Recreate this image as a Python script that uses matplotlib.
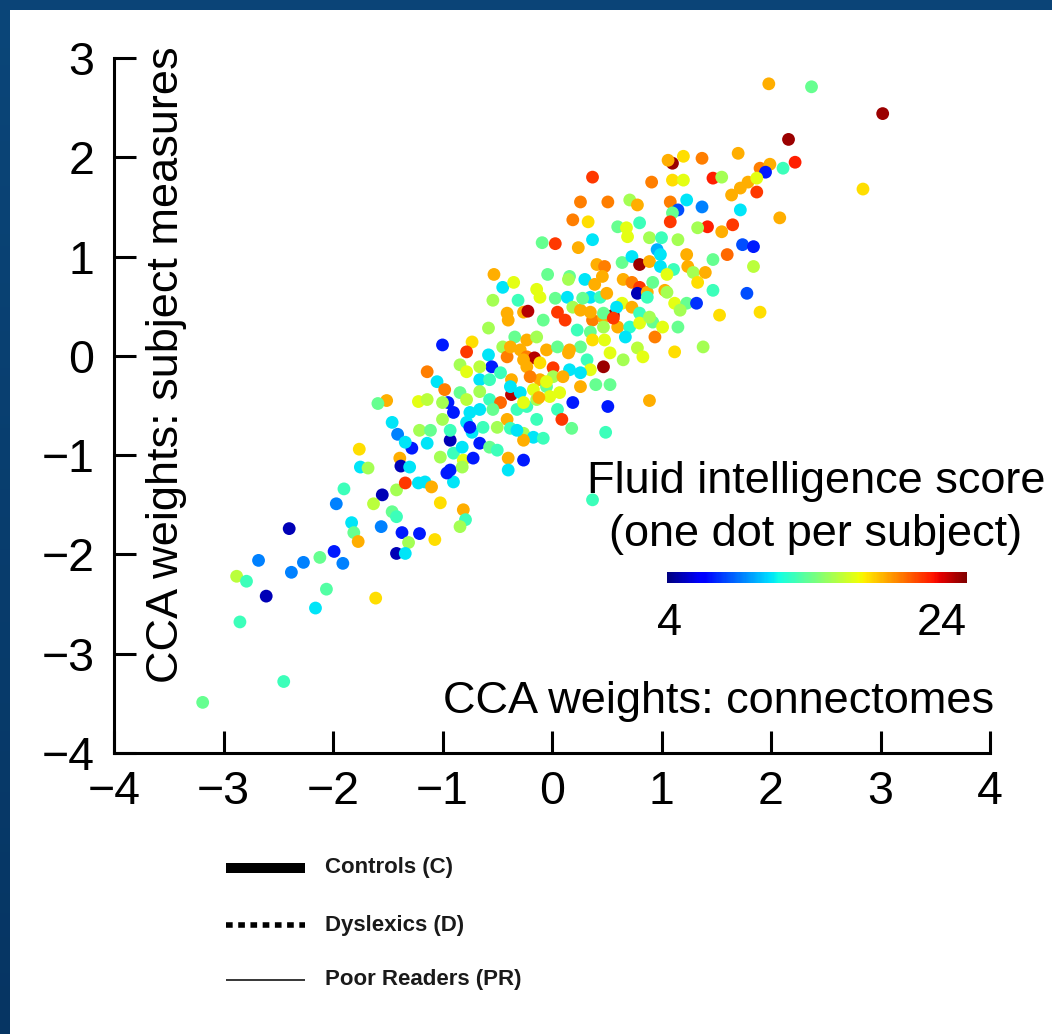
import numpy as np
import matplotlib
matplotlib.use("Agg")
import matplotlib.pyplot as plt
from matplotlib.lines import Line2D

plt.rcParams['font.family'] = ['Liberation Sans', 'DejaVu Sans']

# CCA weights, connectomes (x)
cca_conn = [
    -1.51, -1.59, -1.46, -1.41, -1.76, -1.75, -1.68, -1.42, -1.55, -1.90,
    -1.97, -1.63, -1.46, -1.42, -2.40, -1.83, -1.81, -1.77, -1.56, -1.42,
    -1.99, -1.91, -2.12, -2.27, -2.38, -2.68, -2.88, -2.79, -2.61, -2.06,
    -1.61, -2.16, -2.85, -2.45, -3.19, -1.34, -1.22, -1.16, -1.10, -1.02,
    -0.81, -0.79, -0.84, -1.37, -1.31, -1.21, -1.07, -1.34, -0.90, 0.37,
    -0.09, 0.03, -0.53, -0.45, -0.35, -0.04, -0.14, -0.11, -0.54, -0.31,
    0.03, -0.41, -0.40, -0.26, -0.22, 0.05, -0.08, -0.58, -0.73, -0.78,
    -0.34, -0.23, -0.14, -0.45, -0.41, -0.58, -0.55, -1.00, -0.84, -0.78,
    -0.66, -0.29, -0.23, -0.16, -0.23, -0.11, 0.01, -0.05, 0.05, -1.14,
    -1.05, -0.98, -0.66, -0.57, -0.47, -0.37, -0.11, -0.20, 0.01, -0.37,
    -0.38, -0.29, -0.17, -0.05, 0.26, 0.07, 0.19, -1.22, -1.14, -0.84,
    -0.78, -0.95, -1.00, -0.66, -0.57, -0.47, -0.90, -0.75, -0.66, -0.54,
    -0.41, -0.32, -0.23, -0.14, -0.02, 0.05, 0.09, 0.18, -1.00, -0.78,
    -0.73, -0.63, -0.50, -0.38, -0.26, -0.17, -0.08, -1.28, -1.14, -0.93,
    -0.90, -0.82, -0.66, -0.57, -0.50, -0.26, -1.21, -1.11, -1.02, -0.93,
    -0.81, -0.72, -0.40, -0.26, -0.40, -0.96, -1.39, -1.38, -1.34, -1.30,
    -0.75, -0.93, -0.82, 0.40, 0.53, 0.51, 0.89, 0.49, 0.37, 0.91,
    1.10, 1.06, 1.20, 1.37, 1.10, 1.20, 1.47, 1.55, 1.70, 1.90,
    1.99, 1.95, 2.11, 2.22, 1.64, 1.72, 1.87, 1.79, 1.87, 0.26,
    0.51, 0.71, 0.78, 1.08, 1.23, 1.15, 1.10, 1.37, 1.72, 0.19,
    0.33, 1.08, 1.42, 1.33, 1.55, 1.65, 2.08, 0.60, 0.68, 0.69,
    0.80, 0.37, 0.24, 0.89, 1.00, 1.15, 0.96, 0.99, 1.74, 1.84,
    1.60, 1.23, 1.47, 1.84, 0.41, 0.48, 0.64, 0.73, 0.80, 0.89,
    0.99, 1.11, 1.05, 1.24, 1.29, 1.40, 0.16, 0.30, 0.39, 0.46,
    0.65, 0.73, 0.80, 0.78, 0.87, 0.92, 1.03, 1.12, 1.23, 1.32,
    1.47, 1.33, 1.78, 1.90, 1.53, 1.38, 1.12, 0.14, 0.19, 0.35,
    0.44, 0.12, 0.26, 0.37, 0.47, 0.56, 0.64, 0.73, 0.80, 0.87,
    0.60, 0.71, 0.80, 0.92, 0.94, 1.01, 1.15, 0.23, 0.35, 0.47,
    0.37, 0.48, 0.67, 0.15, 0.26, 0.32, 0.47, 0.65, 0.78, 0.83,
    0.53, 0.16, 1.98, 2.16, 2.37, 3.02, 2.84, -0.38, -0.26, 0.10,
    0.35, -0.05, 0.16, -0.26, -0.12, -0.32, -0.14, 0.26, 0.59, 0.47,
    0.35, 0.28, 0.50, 0.89, 1.05, 1.17, 0.15, 0.56,
]

# CCA weights, subject measures (y)
cca_subj = [
    -0.45, -0.48, -0.67, -0.79, -0.94, -1.12, -1.13, -1.35, -1.40, -1.34,
    -1.49, -1.49, -1.57, -1.62, -1.74, -1.68, -1.78, -1.87, -1.72, -1.99,
    -1.97, -2.09, -2.03, -2.08, -2.18, -2.06, -2.22, -2.27, -2.42, -2.35,
    -2.44, -2.54, -2.68, -3.28, -3.49, -1.28, -1.28, -1.27, -1.32, -1.48,
    -1.55, -1.65, -1.72, -1.78, -1.88, -1.79, -1.85, -1.99, -1.27, -1.45,
    1.14, 1.13, 0.82, 0.69, 0.74, 0.82, 0.67, 0.59, 0.56, 0.56,
    0.58, 0.43, 0.36, 0.44, 0.45, 0.44, 0.36, 0.28, 0.14, 0.04,
    0.19, 0.16, 0.19, 0.09, -0.01, 0.01, -0.11, 0.11, -0.09, -0.16,
    -0.11, 0.06, -0.01, -0.02, -0.11, -0.07, -0.12, 0.06, 0.09, -0.16,
    -0.26, -0.34, -0.24, -0.24, -0.17, -0.24, -0.24, -0.21, -0.21, -0.39,
    -0.31, -0.37, -0.34, -0.31, -0.31, -0.37, -0.47, -0.46, -0.44, -0.37,
    -0.44, -0.47, -0.47, -0.36, -0.44, -0.47, -0.57, -0.57, -0.54, -0.54,
    -0.64, -0.54, -0.51, -0.44, -0.41, -0.54, -0.64, -0.73, -0.64, -0.67,
    -0.77, -0.72, -0.72, -0.73, -0.78, -0.82, -0.83, -0.93, -0.88, -0.85,
    -0.98, -0.92, -0.88, -0.92, -0.95, -0.85, -0.75, -0.75, -1.02, -1.15,
    -1.05, -1.03, -1.03, -1.05, -1.15, -1.18, -1.03, -1.11, -0.87, -1.12,
    -0.72, -0.75, -1.12, -0.29, -0.29, -0.51, -0.45, -0.77, 1.80, 1.75,
    1.94, 1.97, 2.01, 1.99, 1.77, 1.77, 1.79, 1.80, 2.04, 1.89,
    1.93, 1.85, 1.89, 1.95, 1.62, 1.69, 1.65, 1.75, 1.79, 1.55,
    1.55, 1.57, 1.52, 1.55, 1.57, 1.47, 1.44, 1.50, 1.47, 1.37,
    1.35, 1.35, 1.30, 1.29, 1.25, 1.32, 1.39, 1.30, 1.29, 1.20,
    1.34, 1.17, 1.09, 1.19, 1.19, 1.17, 1.07, 1.02, 1.12, 1.10,
    1.02, 1.02, 0.97, 0.90, 0.92, 0.90, 0.94, 1.00, 0.92, 0.95,
    0.90, 0.87, 0.82, 0.90, 0.84, 0.84, 0.80, 0.77, 0.72, 0.80,
    0.77, 0.74, 0.69, 0.63, 0.64, 0.74, 0.66, 0.53, 0.53, 0.53,
    0.66, 0.74, 0.63, 0.44, 0.41, 0.09, 0.04, 0.59, 0.49, 0.59,
    0.59, 0.36, 0.46, 0.36, 0.39, 0.41, 0.53, 0.49, 0.43, 0.59,
    0.29, 0.29, 0.33, 0.34, 0.19, 0.29, 0.29, 0.26, 0.24, 0.29,
    0.16, 0.16, 0.19, 0.03, 0.09, -0.04, -0.11, -0.04, 0.08, -0.01,
    0.03, -0.14, 2.74, 2.18, 2.71, 2.44, 1.68, 0.09, -0.04, -0.21,
    -0.14, -0.26, 0.06, -0.47, -0.42, -0.75, -0.64, -0.17, 0.49, 0.43,
    0.44, 0.58, 0.63, 0.39, 0.64, 0.46, 0.77, 0.38,
]

# fluid intelligence score per subject (colour)
fluid_iq = [
    18.5, 13.5, 11, 9, 17.5, 11, 15, 15, 5, 12.5,
    9, 15.5, 13.5, 12.5, 5, 11, 13.5, 18.5, 9, 5,
    7, 9, 13.5, 9, 9, 9, 15.5, 12.5, 5, 13,
    17.5, 11, 12.5, 12.5, 13.5, 21, 11, 11, 18.5, 17.5,
    18.5, 12.5, 15, 7, 15, 7, 17.5, 11, 11, 12.5,
    13.5, 21, 18.5, 11, 16.5, 13.5, 16.5, 16.5, 15, 12.5,
    13.5, 18.5, 18.5, 18.5, 23, 21, 13.5, 15, 17.5, 21,
    13.5, 18.5, 15, 15, 19.5, 11, 7, 7, 15, 16.5,
    15.5, 18.5, 19.5, 23, 18.5, 17.5, 21, 18.5, 13.5, 19.5,
    11, 19.5, 11, 12.5, 12.5, 18.5, 18.5, 19.5, 15, 23,
    11, 11, 16.5, 13.5, 18.5, 16.5, 7, 16.5, 15.5, 13.5,
    15.5, 7, 15, 15, 12.5, 20, 7, 11, 11, 13.5,
    18.5, 12.5, 12.5, 15, 16.5, 12.5, 21, 13.5, 15, 11,
    11, 12.5, 15, 12.5, 15, 11, 12.5, 7, 11, 5,
    12.5, 11, 7, 13.5, 12.5, 18.5, 15, 13.5, 15, 7,
    16.5, 7, 18.5, 7, 11, 7, 18.5, 5, 11, 11,
    7, 12.5, 15, 13.5, 13.5, 7, 18.5, 12.5, 21, 19.5,
    23.5, 18.5, 17.5, 19.5, 17.5, 16.5, 21.5, 15, 18.5, 19.5,
    18.5, 7, 12.5, 21.5, 18.5, 18.5, 21, 18.5, 16.5, 19.5,
    19.5, 15, 18.5, 19.5, 11, 8, 13.5, 9, 11, 19.5,
    17.5, 21, 21.5, 15, 18.5, 21, 18.5, 13.5, 16.5, 16.5,
    12.5, 11, 18.5, 15, 12.5, 15, 10, 11, 8, 7,
    20, 18.5, 13.5, 15.5, 18.5, 19.5, 13.5, 11, 23.5, 18.5,
    11, 12.5, 16.5, 18.5, 15, 18.5, 13.5, 11, 18.5, 18.5,
    18.5, 19.5, 21, 5, 18.5, 13.5, 18.5, 16.5, 13.5, 7.5,
    12.5, 17.5, 8, 17.5, 17.5, 15, 17.5, 11, 15, 11,
    12.5, 21, 18.5, 19.5, 18.5, 23.5, 16.5, 18.5, 12.5, 12.5,
    18.5, 12, 16.5, 13.5, 19.5, 16.5, 13.5, 12.5, 13.5, 15,
    17.5, 16.5, 11, 18.5, 13.5, 12.5, 23.5, 15, 15.5, 16.5,
    16.5, 11, 18.5, 23.5, 13.5, 23.5, 17.5, 18.5, 18.5, 18.5,
    16.5, 16.5, 18.5, 16.5, 18.5, 11, 12.5, 11, 11, 13.5,
    18.5, 13.5, 18.5, 15, 15, 15, 15, 21,
]

x_ticks = [-4, -3, -2, -1, 0, 1, 2, 3, 4]
y_ticks = [-4, -3, -2, -1, 0, 1, 2, 3]
score_range = [4, 24]
legend_labels = ["Controls (C)", "Dyslexics (D)", "Poor Readers (PR)"]

W, H = 1052, 1034
fig = plt.figure(figsize=(W / 100, H / 100), dpi=100)
fig.patch.set_facecolor('white')


def fx(px):
    return px / W


def fy(py):
    return 1 - py / H


# slide frame (blue bands on top and left)
band = fig.add_axes([0, 0, fx(10), 1])
grad = np.linspace(0, 1, 256).reshape(-1, 1)
band.imshow(grad, aspect='auto', cmap=matplotlib.colors.LinearSegmentedColormap.from_list(
    'frame', ['#0b4679', '#063563']), extent=[0, 1, 0, 1], origin='upper')
band.axis('off')
top = fig.add_axes([0, fy(10), 1, 10 / H])
top.set_facecolor('#0b4477')
top.set_xticks([])
top.set_yticks([])
for s in top.spines.values():
    s.set_visible(False)

ax = fig.add_axes([fx(114), fy(753), fx(990) - fx(114), fy(58) - fy(753)])
sc = ax.scatter(cca_conn, cca_subj, c=fluid_iq, cmap='jet',
                vmin=score_range[0], vmax=score_range[1],
                s=85, edgecolors='none', zorder=3, clip_on=False)
ax.set_xlim(-4, 4)
ax.set_ylim(-4, 3)
ax.set_xticks(x_ticks)
ax.set_yticks(y_ticks)
ax.set_xticklabels([f"\u2212{abs(t)}" if t < 0 else str(t) for t in x_ticks])
ax.set_yticklabels([f"\u2212{abs(t)}" if t < 0 else str(t) for t in y_ticks])
for side in ['top', 'right']:
    ax.spines[side].set_visible(False)
for side in ['left', 'bottom']:
    ax.spines[side].set_linewidth(2.2)
ax.tick_params(direction='in', length=16, width=2.2, labelsize=33.5, pad=12)
ax.tick_params(axis='y', pad=14)

fig.text(fx(443), fy(713), "CCA weights: connectomes", fontsize=32.5,
         ha='left', va='baseline')
fig.text(fx(167), fy(365), "CCA weights: subject measures", fontsize=32.5,
         rotation=90, ha='center', va='center')

# colour scale
fig.text(fx(816), fy(493), "Fluid intelligence score", fontsize=32.5,
         ha='center', va='baseline')
fig.text(fx(816), fy(546), "(one dot per subject)", fontsize=32.5,
         ha='center', va='baseline')
cax = fig.add_axes([fx(667), fy(583), fx(967) - fx(667), fy(572) - fy(583)])
cb = fig.colorbar(sc, cax=cax, orientation='horizontal')
cb.outline.set_visible(False)
cb.set_ticks([])
fig.text(fx(670), fy(635), str(score_range[0]), fontsize=32.5,
         ha='center', va='baseline')
fig.text(fx(967), fy(635), str(score_range[1]), fontsize=32.5,
         ha='right', va='baseline')

# group line-style key under the plot
styles = [dict(lw=7.2, ls='-'), dict(lw=4.0, ls=(0, (1.2, 1.0))), dict(lw=1.1, ls='-')]
key_rows = [868, 925, 980]
for label, st, py in zip(legend_labels, styles, key_rows):
    fig.add_artist(Line2D([fx(226), fx(305)], [fy(py), fy(py)], color='black',
                          solid_capstyle='butt', dash_capstyle='butt', **st))
    fig.text(fx(325), fy(py), label, fontsize=16, fontweight='bold',
             color='#1a1a1a', ha='left', va='center')

fig.savefig('out.png', dpi=100, facecolor='white')
